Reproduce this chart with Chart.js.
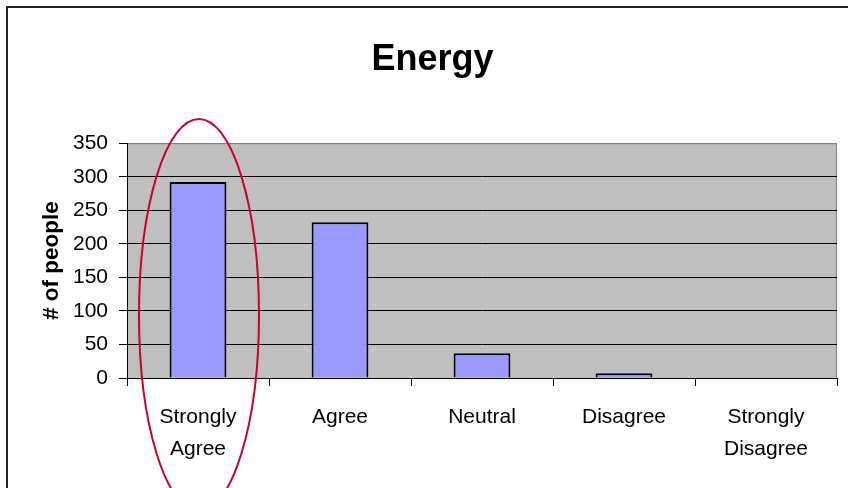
<!DOCTYPE html>
<html>
<head>
<meta charset="utf-8">
<script src="https://cdn.jsdelivr.net/npm/chart.js@4/dist/chart.umd.min.js"></script>
<style>
  html, body { margin: 0; padding: 0; background: #fff; }
  #wrap { width: 848px; height: 488px; }
</style>
</head>
<body>
<div id="wrap"><canvas id="chart"></canvas></div>
<script>
    var categories = ['Strongly Agree', 'Agree', 'Neutral', 'Disagree', 'Strongly Disagree'];
    var people = [292, 232, 37, 7, 0];
    var yTicks = [0, 50, 100, 150, 200, 250, 300, 350];

    var font = 'Liberation Sans, Arial, sans-serif';

    // grey plot area, outer frame and the red ring round the first bar
    var decor = {
        id: 'decor',
        beforeDraw: function (chart) {
            var c = chart.ctx, a = chart.chartArea;
            c.save();
            c.strokeStyle = '#222';
            c.lineWidth = 2;
            c.strokeRect(7, 7, 900, 900);
            c.fillStyle = '#C0C0C0';
            c.fillRect(a.left, a.top, a.right - a.left, a.bottom - a.top);
            c.strokeStyle = '#808080';
            c.lineWidth = 1;
            c.beginPath();
            c.moveTo(a.left, a.top + 0.5);
            c.lineTo(a.right - 0.5, a.top + 0.5);
            c.lineTo(a.right - 0.5, a.bottom);
            c.stroke();
            c.restore();
        },
        afterDatasetsDraw: function (chart) {
            var c = chart.ctx;
            var cx = chart.scales.x.getPixelForValue(0) + 1;
            var cy = chart.scales.y.getPixelForValue(94);
            c.save();
            c.strokeStyle = '#CC0033';
            c.lineWidth = 2;
            c.beginPath();
            c.ellipse(cx, cy, 60, 196, 0, 0, Math.PI * 2);
            c.stroke();
            c.restore();
        }
    };

    new Chart(document.getElementById('chart'), {
        type: 'bar',
        data: {
            labels: categories.map(function (c) { return c.split(' '); }),
            datasets: [{
                data: people,
                backgroundColor: '#9999FF',
                borderColor: '#000',
                borderWidth: 2,
                barPercentage: 0.4,
                categoryPercentage: 1
            }]
        },
        options: {
            responsive: true,
            maintainAspectRatio: false,
            animation: false,
            layout: { padding: { left: 28, right: 11, top: 0, bottom: 0 } },
            scales: {
                x: {
                    afterFit: function (s) { s.height = 110; },
                    grid: { offset: true, drawOnChartArea: false, color: '#000', tickLength: 8 },
                    border: { color: '#000', width: 1 },
                    ticks: { color: '#000', padding: 15, maxRotation: 0, autoSkip: false,
                             font: { family: font, size: 21, lineHeight: 1.52 } }
                },
                y: {
                    min: 0,
                    max: 350,
                    afterFit: function (s) { s.width = 99; },
                    afterBuildTicks: function (s) { s.ticks = yTicks.map(function (v) { return { value: v }; }); },
                    grid: {
                        color: function (ctx) { return ctx.tick && ctx.tick.value === 350 ? '#808080' : '#000'; },
                        tickColor: '#000',
                        tickLength: 8
                    },
                    border: { color: '#000', width: 1 },
                    ticks: { color: '#000', padding: 11, font: { family: font, size: 21 } },
                    title: {
                        display: true,
                        text: '# of people',
                        color: '#000',
                        padding: { top: 10, bottom: 0 },
                        font: { family: font, size: 22.5, weight: 'bold' }
                    }
                }
            },
            plugins: {
                legend: { display: false },
                tooltip: { enabled: false },
                title: {
                    display: true,
                    text: 'Energy',
                    color: '#000',
                    padding: { top: 38, bottom: 62 },
                    font: { family: font, size: 36, weight: 'bold' }
                }
            }
        },
        plugins: [decor]
    });
</script>
</body>
</html>
